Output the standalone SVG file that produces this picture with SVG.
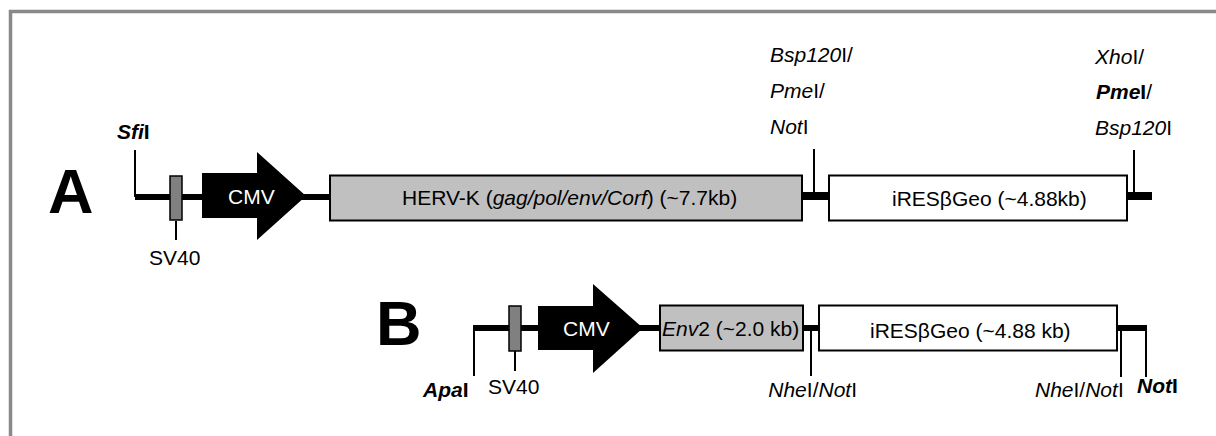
<svg xmlns="http://www.w3.org/2000/svg" width="1216" height="436" viewBox="0 0 1216 436">
<style>
text{font-family:"Liberation Sans",Arial,sans-serif;font-size:21px;fill:#000}
.big{font-size:63px;font-weight:bold}
.i{font-style:italic}
.b{font-weight:bold}
.bb{stroke:#000;stroke-width:6;fill:none}
.bb8{stroke:#000;stroke-width:8;fill:none}
.tick{stroke:#000;stroke-width:2;fill:none}
.gene{fill:#c0c0c0;stroke:#000;stroke-width:2}
.ires{fill:#fff;stroke:#000;stroke-width:2}
.sv{fill:#808080;stroke:#000;stroke-width:1.5}
.cmv{fill:#000}
.wt{fill:#fff}
</style>
<rect width="1216" height="436" fill="#fff"/>
<path d="M10.5,436 V11.5 H1216" fill="none" stroke="#898989" stroke-width="3.5"/>

<g id="connectors">
  <!-- construct A backbone -->
  <path class="bb" d="M135,197 H330"/>
  <path class="bb8" d="M800,196 H830"/>
  <path class="bb8" d="M1125,196 H1152"/>
  <path class="tick" d="M135,150 V197"/>
  <path class="tick" d="M176,221 V240"/>
  <path class="tick" d="M814,149 V196"/>
  <path class="tick" d="M1134,150 V196"/>
  <!-- construct B backbone -->
  <path class="bb" d="M473,328 H660"/>
  <path class="bb" d="M801,328 H820"/>
  <path class="bb" d="M1115,328 H1147"/>
  <path class="tick" d="M474,326 V376"/>
  <path class="tick" d="M515,351 V371"/>
  <path class="tick" d="M811,331 V376"/>
  <path class="tick" d="M1121,331 V377"/>
  <path class="tick" d="M1146,328 V377"/>
</g>

<g id="labelA"><text class="big" x="48" y="213">A</text></g>
<g id="labelB"><text class="big" x="376" y="345">B</text></g>

<g id="A-sfi"><text x="117" y="139" class="b"><tspan class="i">Sfi</tspan>I</text></g>
<g id="A-sv40">
  <rect class="sv" x="170" y="176" width="12" height="44"/>
  <text x="149" y="265">SV40</text>
</g>
<g id="A-cmv">
  <polygon class="cmv" points="202,173 257,173 257,152 306,196 257,240 257,218 202,218"/>
  <text class="wt" x="228" y="204">CMV</text>
</g>
<g id="A-herv">
  <rect class="gene" x="330" y="175.5" width="472" height="45"/>
  <text x="402" y="205">HERV-K (<tspan class="i">gag/pol/env/Corf</tspan>) (~7.7kb)</text>
</g>
<g id="A-site1">
  <text x="770" y="62"><tspan class="i">Bsp120</tspan>I/</text>
  <text x="770" y="98"><tspan class="i">Pme</tspan>I/</text>
  <text x="770" y="134"><tspan class="i">Not</tspan>I</text>
</g>
<g id="A-ires">
  <rect class="ires" x="829" y="175.5" width="298" height="45"/>
  <text x="892" y="206">iRESβGeo (~4.88kb)</text>
</g>
<g id="A-site2">
  <text x="1095" y="64"><tspan class="i">Xho</tspan>I/</text>
  <text x="1096" y="99" class="b"><tspan class="i">Pme</tspan>I<tspan font-weight="normal">/</tspan></text>
  <text x="1095" y="135"><tspan class="i">Bsp120</tspan>I</text>
</g>

<g id="B-apa"><text x="423" y="397" class="b"><tspan class="i">Apa</tspan>I</text></g>
<g id="B-sv40">
  <rect class="sv" x="509" y="306" width="12" height="45"/>
  <text x="488" y="394">SV40</text>
</g>
<g id="B-cmv">
  <polygon class="cmv" points="538,306 593,306 593,284 643,328 593,373 593,350 538,350"/>
  <text class="wt" x="563" y="336">CMV</text>
</g>
<g id="B-env2">
  <rect class="gene" x="660" y="305.5" width="143" height="45"/>
  <text x="662" y="336"><tspan class="i">Env</tspan>2 (~2.0 kb)</text>
</g>
<g id="B-site1"><text x="857" y="397" text-anchor="end"><tspan class="i">Nhe</tspan>I/<tspan class="i">Not</tspan>I</text></g>
<g id="B-ires">
  <rect class="ires" x="819" y="305.5" width="298" height="45"/>
  <text x="870" y="338">iRESβGeo (~4.88 kb)</text>
</g>
<g id="B-site2"><text x="1035" y="397"><tspan class="i">Nhe</tspan>I/<tspan class="i">Not</tspan>I</text></g>
<g id="B-site3"><text x="1137" y="393" class="b"><tspan class="i">Not</tspan>I</text></g>
</svg>
